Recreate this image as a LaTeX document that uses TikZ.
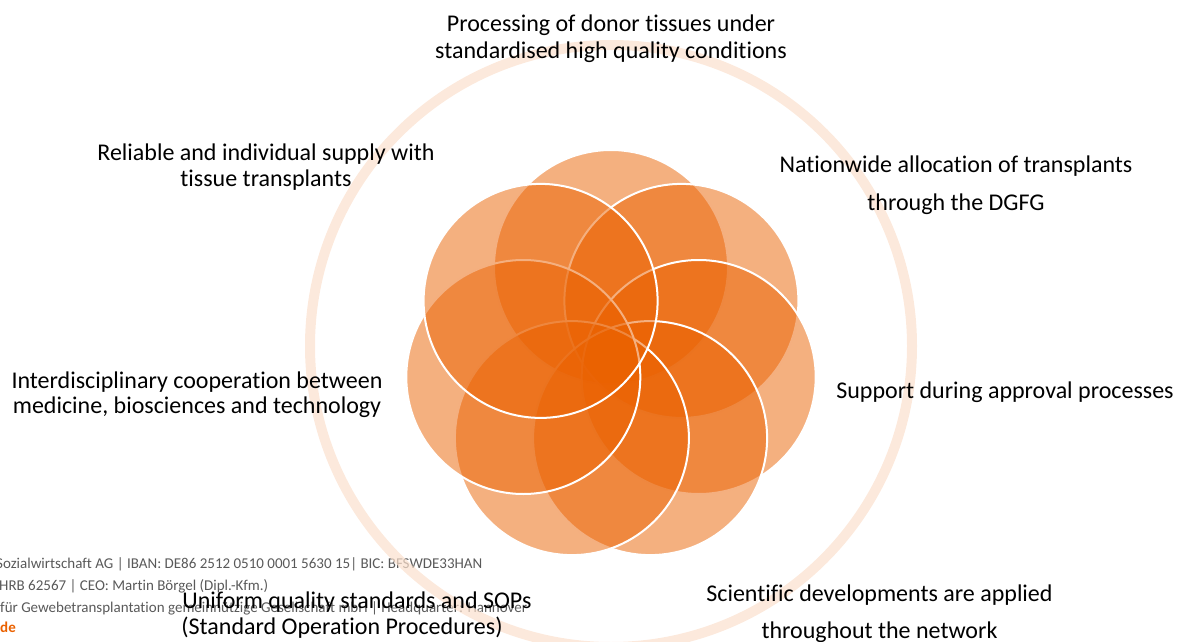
\documentclass[tikz,border=0pt]{standalone}
\usepackage{fontspec}
\setmainfont{Carlito}[Ligatures=NoCommon]
\definecolor{petal}{RGB}{234,97,0}
\definecolor{ringc}{RGB}{251,224,205}
\definecolor{foot}{RGB}{89,89,89}
\definecolor{dgfg}{RGB}{234,97,0}
\begin{document}
\begin{tikzpicture}[x=1pt,y=-1pt,
  petalnode/.style={circle,inner sep=0pt,minimum size=234pt,fill=petal,fill opacity=0.5,draw=white,draw opacity=1,line width=2pt},
  ringnode/.style={circle,inner sep=0pt,minimum size=602pt,draw=ringc,draw opacity=0.7,line width=10pt},
  lbl/.style={font=\fontsize{24}{28}\selectfont,text=black,anchor=base,inner sep=0pt},
  footl/.style={font=\fontsize{15}{17}\selectfont,text=foot,anchor=base west,inner sep=0pt}]
\useasboundingbox (0,0) rectangle (1187,642);
\clip (0,0) rectangle (1187,642);
% footer
\node[footl] (f1) at (-4,568) {Sozialwirtschaft AG | IBAN: DE86 2512 0510 0001 5630 15| BIC: BFSWDE33HAN};
\node[footl] (f2) at (-1,590) {HRB 62567 | CEO: Martin Börgel (Dipl.-Kfm.)};
\node[footl] (f3) at (0,612) {für Gewebetransplantation gemeinnützige Gesellschaft mbH | Headquarter: Hannover};
\node[footl,text=dgfg,font=\fontsize{15}{17}\selectfont\bfseries] (f4) at (0,632) {de};
% ring
\node[ringnode] (ring) at (611,346) {};
% petals
\node[petalnode] (pT)  at (611,267) {};
\node[petalnode] (pUR) at (681.4,300.9) {};
\node[petalnode] (pR)  at (698.7,377.0) {};
\node[petalnode] (pLR) at (650.1,438.1) {};
\node[petalnode] (pLL) at (571.9,438.1) {};
\node[petalnode] (pL)  at (523.3,377.0) {};
\node[petalnode] (pUL) at (540.6,300.9) {};
% labels
\node[lbl] (t1a) at (611,32) {Processing of donor tissues under};
\node[lbl] (t1b) at (611,59) {standardised high quality conditions};
\node[lbl] (t2a) at (266,160) {Reliable and individual supply with};
\node[lbl] (t2b) at (266,186) {tissue transplants};
\node[lbl] (t3a) at (956,172) {Nationwide allocation of transplants};
\node[lbl] (t3b) at (956,210) {through the DGFG};
\node[lbl] (t4a) at (197,388) {Interdisciplinary cooperation between};
\node[lbl] (t4b) at (197,413) {medicine, biosciences and technology};
\node[lbl] (t5) at (1005,398) {Support during approval processes};
\node[lbl] (t6a) at (357,608) {Uniform quality standards and SOPs};
\node[lbl] (t6b) at (342,634) {(Standard Operation Procedures)};
\node[lbl] (t7a) at (879.5,601) {Scientific developments are applied};
\node[lbl] (t7b) at (879.5,638) {throughout the network};
\end{tikzpicture}
\end{document}
